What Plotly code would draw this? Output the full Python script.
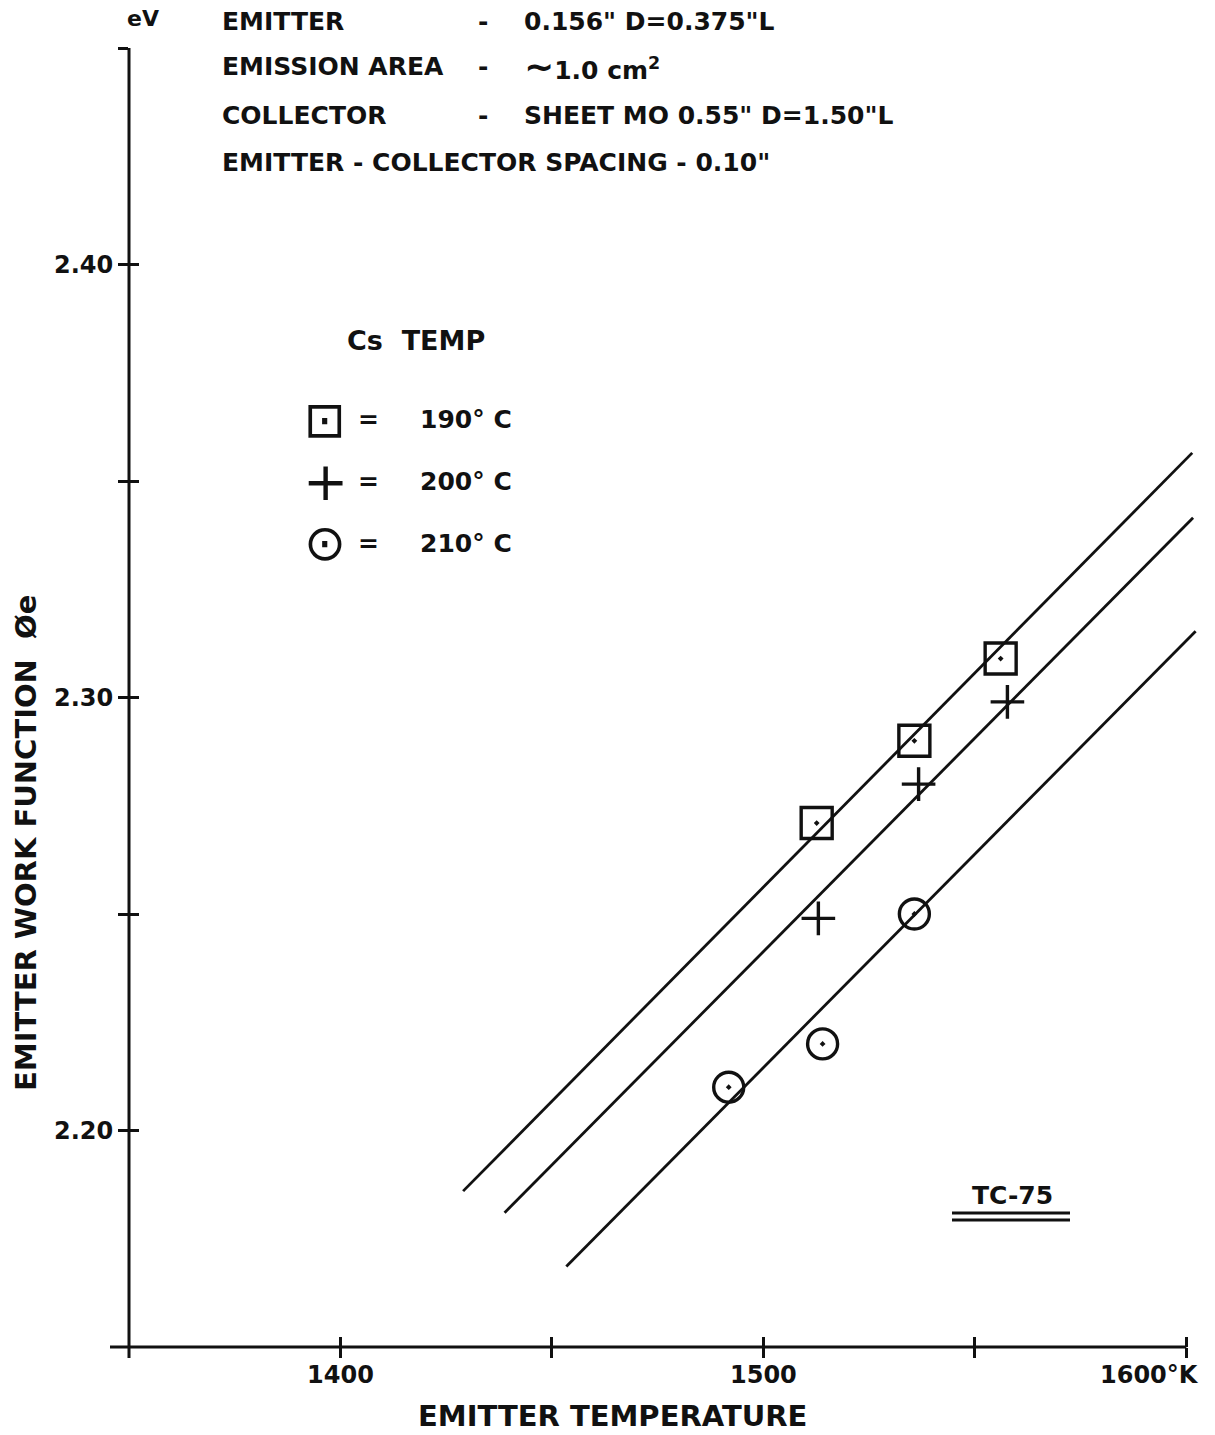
import plotly.graph_objects as go

# Measured values (emitter temperature in K, work function in eV)
temp_190 = [1512.6, 1535.7, 1556.1]
phi_190 = [2.271, 2.290, 2.309]
temp_200 = [1513.0, 1536.7, 1557.7]
phi_200 = [2.249, 2.280, 2.299]
temp_210 = [1491.8, 1514.0, 1535.7]
phi_210 = [2.210, 2.220, 2.250]

# Hand-drawn fit lines (end points)
fit_temp_190 = [1429.0, 1601.4]
fit_phi_190 = [2.186, 2.3565]
fit_temp_200 = [1438.8, 1601.6]
fit_phi_200 = [2.181, 2.3415]
fit_temp_210 = [1453.4, 1602.2]
fit_phi_210 = [2.1686, 2.3153]

x_ticks = [1400, 1450, 1500, 1550, 1600]
x_tick_text = ["1400", " ", "1500", " ", " "]
y_ticks = [2.20, 2.25, 2.30, 2.35, 2.40, 2.45]
y_tick_text = ["2.20", " ", "2.30", " ", "2.40", " "]

X_RANGE = [1350, 1603]
X_AXIS_END = 1600
Y_RANGE = [2.15, 2.45]

W, H = 1215, 1435
ML, MR, MT, MB = 129, 16, 48, 88
PW = W - ML - MR
PH = H - MT - MB

FONT = "DejaVu Sans"
INK = "#111111"


def px(x):
    return (x - ML) / PW


def py(y):
    return (H - MB - y) / PH


fig = go.Figure()

series = [
    (fit_temp_190, fit_phi_190, temp_190, phi_190, "square-open-dot", 31),
    (fit_temp_200, fit_phi_200, temp_200, phi_200, "cross-thin-open", 24),
    (fit_temp_210, fit_phi_210, temp_210, phi_210, "circle-open-dot", 30),
]
for fx, fy, mx, my, sym, size in series:
    # fit lines live on the overlay axes so those axes get drawn too
    fig.add_trace(go.Scatter(x=fx, y=fy, mode="lines", xaxis="x2", yaxis="y2",
                             line=dict(color=INK, width=2.8),
                             showlegend=False, hoverinfo="skip"))
    fig.add_trace(go.Scatter(x=mx, y=my, mode="markers",
                             marker=dict(symbol=sym, size=size, color=INK,
                                         line=dict(color=INK, width=3.4)),
                             showlegend=False, cliponaxis=False))

tick_font = dict(family=FONT, size=24, color=INK, weight="bold")
axis_common = dict(showgrid=False, zeroline=False, showline=False,
                   automargin=False, ticklen=10, tickwidth=3, tickcolor=INK)

fig.update_layout(
    width=W, height=H,
    template="none",
    paper_bgcolor="white", plot_bgcolor="white",
    margin=dict(l=ML, r=MR, t=MT, b=MB),
    showlegend=False,
    xaxis=dict(range=X_RANGE, tickvals=x_ticks, ticktext=x_tick_text,
               ticks="outside", tickfont=tick_font, ticklabelstandoff=-4,
               **axis_common),
    yaxis=dict(range=Y_RANGE, tickvals=y_ticks, ticktext=y_tick_text,
               ticks="outside", tickfont=tick_font, **axis_common),
    # overlay axes to make tick marks cross the axis lines
    xaxis2=dict(range=X_RANGE, overlaying="x", anchor="y2", side="bottom",
                tickvals=x_ticks, ticks="inside", showticklabels=False,
                **axis_common),
    yaxis2=dict(range=Y_RANGE, overlaying="y", anchor="x2", side="left",
                tickvals=y_ticks, ticks="inside", showticklabels=False,
                **axis_common),
)

# axis lines (they overshoot the origin a little, as in the drawing)
x_end = (X_AXIS_END - X_RANGE[0]) / (X_RANGE[1] - X_RANGE[0])
fig.add_shape(type="line", xref="paper", yref="paper", x0=0, x1=0,
              y0=py(1358), y1=1, line=dict(color=INK, width=3))
fig.add_shape(type="line", xref="paper", yref="paper", x0=px(110), x1=x_end,
              y0=0, y1=0, line=dict(color=INK, width=3))

# double underline below TC-75
for uy in [1213, 1220]:
    fig.add_shape(type="line", xref="paper", yref="paper",
                  x0=px(952), x1=px(1070), y0=py(uy), y1=py(uy),
                  line=dict(color=INK, width=3))


def note(text, x, y, size=25, anchor="center", angle=0, weight="bold"):
    fig.add_annotation(text=text, x=px(x), y=py(y), xref="paper", yref="paper",
                       xanchor=anchor, yanchor="middle", showarrow=False,
                       textangle=angle,
                       font=dict(family=FONT, size=size, color=INK, weight=weight))


# header block
note("eV", 143, 18, size=22)
header_rows = [
    ("EMITTER", '0.156" D=0.375"L', 22),
    ("EMISSION AREA", '<span style="font-size:36px">∼</span>1.0 cm<sup>2</sup>', 67),
    ("COLLECTOR", 'SHEET MO 0.55" D=1.50"L', 115),
]
for label, value, y in header_rows:
    note(label, 220, y, anchor="left")
    note("-", 483, y)
    note(value, 522, y, anchor="left")
note('EMITTER - COLLECTOR SPACING - 0.10"', 220, 162, anchor="left")

# key
note("Cs  TEMP", 416, 340, size=27)
key_rows = [("⊡", "190° C", 420, 50), ("+", "200° C", 481, 54), ("⊙", "210° C", 543, 50)]
for glyph, label, y, gsize in key_rows:
    note(glyph, 325, y, size=gsize, weight="normal")
    note("=", 368, y)
    note(label, 418, y, anchor="left")

note("TC-75", 1012, 1195)

# axis titles and the unit-bearing end label
note("1600°K", 1149, 1375, size=24)
note("EMITTER TEMPERATURE", 612, 1416, size=29)
note("EMITTER WORK FUNCTION  Øe", 26, 843, size=29, angle=-90)

fig.write_html("out.html", config={"displayModeBar": False},
               post_script="document.body.style.margin='0';")
